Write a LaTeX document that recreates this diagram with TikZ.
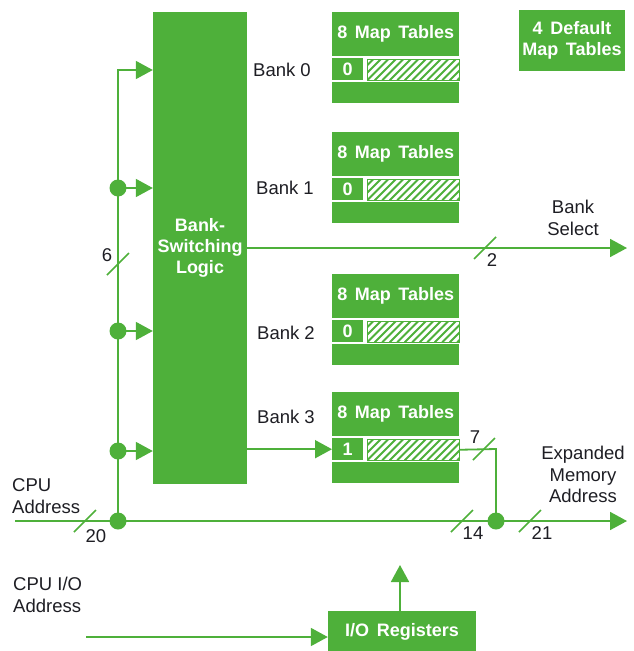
\documentclass[tikz,border=0pt]{standalone}
\usepackage{fontspec}
\setmainfont{Liberation Sans}
\usetikzlibrary{arrows.meta}
\definecolor{grn}{RGB}{78,176,58}
\definecolor{ink}{RGB}{30,30,36}
\newcommand\bfnt{\bfseries\fontsize{18}{21}\selectfont\spaceskip=0.42em plus 0.1em}
\newcommand\rfnt{\fontsize{18.5}{21.5}\selectfont}
\tikzset{
  blk/.style={fill=grn, draw=none, inner sep=0pt, text=white, font=\bfnt, align=center},
  lbl/.style={text=ink, font=\rfnt, align=center, inner sep=0pt},
  wire/.style={draw=grn, line width=1.8pt},
  arr/.style={wire, -{Triangle[length=17pt,width=18pt]}},
  jdot/.style={circle, fill=grn, minimum size=17pt, inner sep=0pt},
  hatchbox/.style={draw=grn, line width=1.5pt, fill=white, inner sep=0pt,
    minimum width=92pt, minimum height=21pt, anchor=north west,
    path picture={\foreach \k in {-4,...,14}
      \draw[grn, line width=1.8pt] ([xshift=\k*7.5pt]path picture bounding box.south west) -- ++(24pt,24pt);}}
}
\begin{document}
\begin{tikzpicture}[x=1pt,y=-1pt]
\useasboundingbox (0,0) rectangle (633,651);
\fill[white] (0,0) rectangle (633,651);

% bank-switching logic
\node[blk, minimum width=94pt, minimum height=472pt] (logic) at (200,248) {Bank-\\Switching\\Logic};

% map table groups
\foreach \i/\t/\d in {0/12/0,1/132/0,2/274/0,3/392/1} {
  \node[blk, minimum width=127pt, minimum height=44pt, anchor=north west] (h\i) at (332,\t) {8 Map Tables};
  \node[blk, minimum width=31pt, minimum height=22pt, anchor=north west] (z\i) at (332,{\t+46}) {\d};
  \node[hatchbox] (s\i) at (366.5,{\t+46.5}) {};
  \node[blk, minimum width=127pt, minimum height=21pt, anchor=north west] (e\i) at (332,{\t+70}) {};
}

\node[blk, minimum width=106pt, minimum height=61pt] (dflt) at (572,40.5) {4 Default\\Map Tables};

% bank labels
\node[lbl] (l0) at (282,70) {Bank 0};
\node[lbl] (l1) at (285,188) {Bank 1};
\node[lbl] (l2) at (286,333) {Bank 2};
\node[lbl] (l3) at (286,417) {Bank 3};

% junctions
\node[jdot] (d1) at (118,188) {};
\node[jdot] (d2) at (118,331) {};
\node[jdot] (d3) at (118,451) {};
\node[jdot] (jcpu) at (118,521) {};
\node[jdot] (jexp) at (496,521) {};

\coordinate (b0) at (118,70);
\coordinate (cpuin) at (15,521);
\coordinate (memout) at (627,521);
\coordinate (bsel) at (627,248);
\coordinate (ioin) at (86,637);
\coordinate (ioout) at (400,565);
\coordinate (corner7) at (496,449);

% bus
\draw[arr] (jcpu.center) -- (b0) -- (b0 -| logic.west);
\draw[arr] (d1.center) -- (d1 -| logic.west);
\draw[arr] (d2.center) -- (d2 -| logic.west);
\draw[arr] (d3.center) -- (d3 -| logic.west);

% bank 3 to map table
\draw[arr] (logic.east |- z3.west) -- (z3.west);
\draw[wire] (s3.east) -- (corner7) -- (jexp.center);

% bank select
\draw[arr] (logic.east |- bsel) -- (bsel);

% CPU address line
\draw[arr] (cpuin) -- (jcpu.center) -- (jexp.center) -- (memout);

% I/O registers
\node[blk, minimum width=148pt, minimum height=42pt] (io) at (402,632) {I/O Registers};
\draw[arr] (ioin) -- (ioin -| io.west);
\draw[arr] (io.north -| ioout) -- (ioout);

% slashes
\foreach \x/\y in {118/264, 485/248, 484/449, 85/521, 462/521, 530/521}
  \draw[wire, line width=1.5pt] (\x,\y) ++(-11,11) -- ++(22,-22);

% bus width labels
\node[lbl] (n6) at (107,255) {6};
\node[lbl] (n2) at (492,260) {2};
\node[lbl] (n7) at (475,437) {7};
\node[lbl] (n20) at (96,536) {20};
\node[lbl] (n14) at (473,533) {14};
\node[lbl] (n21) at (542,533) {21};

% side labels
\node[lbl] (bs) at (573,218) {Bank\\Select};
\node[lbl] (ema) at (583,474.5) {Expanded\\Memory\\Address};
\node[lbl, align=left, anchor=west] (cpua) at (12,496) {CPU\\Address};
\node[lbl, align=left, anchor=west] (cpuio) at (13,595) {CPU I/O\\Address};
\end{tikzpicture}
\end{document}
